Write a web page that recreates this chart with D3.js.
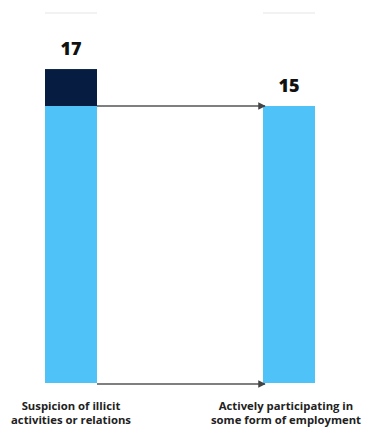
<!DOCTYPE html>
<html><head><meta charset="utf-8">
<script src="https://cdn.jsdelivr.net/npm/d3@7"></script>
<style>html,body{margin:0;padding:0;background:#fff;}svg{display:block;}</style>
</head><body>
<script>
const categories = ["Suspicion of illicit|activities or relations", "Actively participating in|some form of employment"];
const totals = [17, 15];
const baseValues = [15, 15];
const topValues = [2, 0];
const W = 367, H = 428;
const labelGap = 14;
const svg = d3.select("body").append("svg").attr("width", W).attr("height", H);
const defs = svg.append("defs");
defs.append("marker").attr("id","ah").attr("viewBox","0 0 10 10").attr("refX",9).attr("refY",5)
  .attr("markerWidth",5).attr("markerHeight",5).attr("orient","auto")
  .append("path").attr("d","M0,0L10,5L0,10z").attr("fill","#444");
const x = d3.scaleBand().domain(categories).range([45, 315]).paddingInner(0.7615).paddingOuter(0);
const y = d3.scaleLinear().domain([0, 15]).range([383, 106]);
const bw = x.bandwidth();
svg.selectAll(".faint").data(categories).join("line")
  .attr("x1", d => x(d)).attr("x2", d => x(d) + bw).attr("y1", 13).attr("y2", 13)
  .attr("stroke", "#eeeeee").attr("stroke-width", 1.5);
svg.selectAll(".base").data(categories).join("rect")
  .attr("x", d => x(d)).attr("width", bw)
  .attr("y", (d,i) => y(baseValues[i])).attr("height", (d,i) => y(0) - y(baseValues[i]))
  .attr("fill", "#4FC3F7");
svg.selectAll(".top").data(categories).join("rect")
  .attr("x", d => x(d)).attr("width", bw)
  .attr("y", (d,i) => y(baseValues[i] + topValues[i])).attr("height", (d,i) => y(baseValues[i]) - y(baseValues[i] + topValues[i]))
  .attr("fill", "#061C40");
[15, 0].forEach(v => {
  const yy = y(v) + (v === 0 ? 1 : 0);
  svg.append("line").attr("x1", x(categories[0]) + bw).attr("x2", x(categories[1]) + 2)
    .attr("y1", yy).attr("y2", yy)
    .attr("stroke", "#555").attr("stroke-width", 1.5).attr("marker-end", "url(#ah)");
});
svg.selectAll(".val").data(categories).join("text")
  .attr("x", d => x(d) + bw / 2).attr("y", (d,i) => y(totals[i]) - labelGap)
  .attr("text-anchor", "middle").attr("font-family", "'Open Sans', sans-serif")
  .attr("font-weight", 800).attr("font-size", 18).attr("fill", "#111")
  .text((d,i) => totals[i]);
const lines = [];
categories.forEach(c => c.split("|").forEach((p, j) => lines.push({c, p, j})));
svg.selectAll(".cat").data(lines).join("text")
  .attr("x", d => x(d.c) + bw / 2 - (d.c === categories[1] ? 3 : 0))
  .attr("y", d => 410 + d.j * 14)
  .attr("text-anchor", "middle").attr("font-family", "'Open Sans', sans-serif")
  .attr("font-weight", 700).attr("font-size", 11.3).attr("fill", "#222")
  .text(d => d.p);
</script>
</body></html>
